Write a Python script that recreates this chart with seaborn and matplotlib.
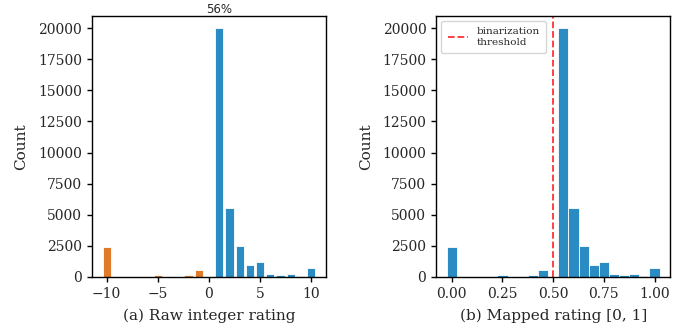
import matplotlib
matplotlib.use("Agg")
import matplotlib.pyplot as plt
import seaborn as sns
import numpy as np
import pandas as pd

# Data
ratings = [-10, -9, -8, -7, -6, -5, -4, -3, -2, -1, 1, 2, 3, 4, 5, 6, 7, 8, 9, 10]
counts = [2370, 0, 0, 0, 0, 170, 0, 0, 170, 580, 20000, 5530, 2510, 915, 1215, 250, 170, 260, 80, 750]
mapped = [(r + 10) / 20 for r in ratings]
top_label = "56%"
threshold = 0.5

BLUE = "#2b8bc3"
ORANGE = "#df7a2a"

sns.set_theme(style="ticks")
plt.rcParams["font.family"] = ["DejaVu Serif"]
plt.rcParams["xtick.labelsize"] = 10
plt.rcParams["ytick.labelsize"] = 10
plt.rcParams["axes.labelsize"] = 11

df = pd.DataFrame({"rating": ratings, "mapped": mapped, "count": counts})
df["neg"] = df["rating"] < 0

fig, (ax1, ax2) = plt.subplots(1, 2, figsize=(6.96, 3.3), dpi=100)
fig.subplots_adjust(left=0.132, right=0.963, top=0.952, bottom=0.161, wspace=0.47)

colors1 = [ORANGE if n else BLUE for n in df["neg"]]
ax1.bar(df["rating"], df["count"], width=0.8, color=colors1, edgecolor="white", linewidth=0.6)
ax1.set_xlabel("(a) Raw integer rating", labelpad=6)
ax1.set_ylabel("Count", labelpad=7)
ax1.set_xticks([-10, -5, 0, 5, 10])
ylim = ax1.get_ylim()
ax1.text(1, ylim[1], top_label, ha="center", va="bottom", fontsize=8.5, family="DejaVu Sans")

ax2.bar(df["mapped"], df["count"], width=0.05, color=BLUE, edgecolor="white", linewidth=0.6)
ax2.axvline(threshold, color="red", linestyle="--", linewidth=1.3, alpha=0.8, label="binarization\nthreshold")
ax2.set_xlabel("(b) Mapped rating [0, 1]", labelpad=6)
ax2.set_ylabel("Count", labelpad=7)
ax2.set_xticks([0.0, 0.25, 0.5, 0.75, 1.0])
ax2.legend(loc="upper left", fontsize=7.5, handlelength=2.0, borderpad=0.6)

for ax in (ax1, ax2):
    for s in ax.spines.values():
        s.set_visible(True)
        s.set_linewidth(1.0)
        s.set_color("black")
    ax.tick_params(length=3.5, width=1.0, color="black")

fig.savefig("out.png", dpi=100)
